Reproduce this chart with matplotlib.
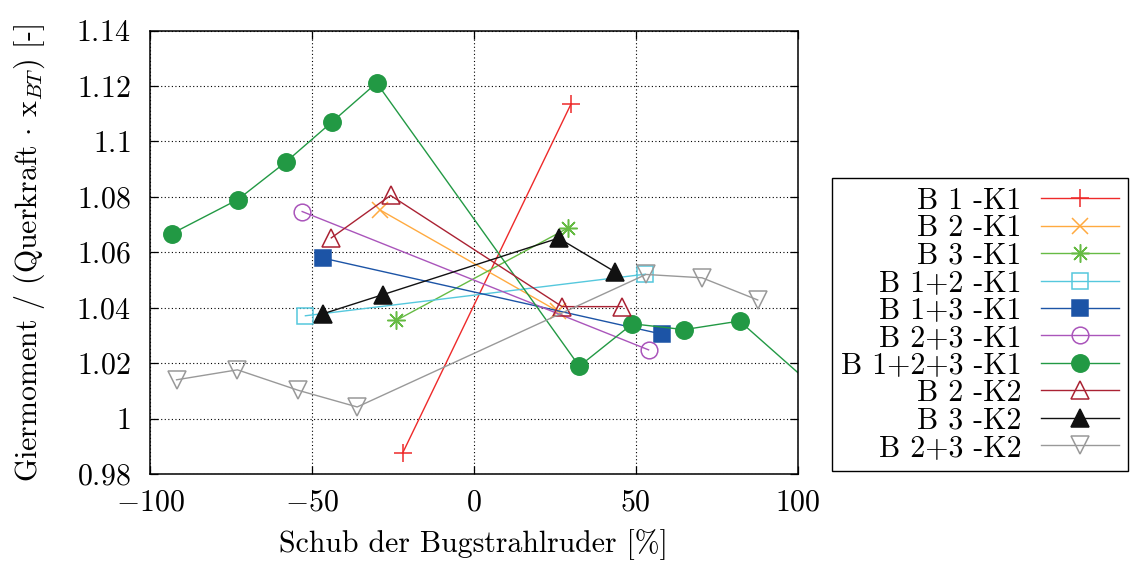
import matplotlib
matplotlib.use("Agg")
import matplotlib.pyplot as plt
from matplotlib.ticker import FixedLocator, FuncFormatter

plt.rcParams["font.family"] = "serif"
plt.rcParams["font.serif"] = ["cmr10"]
plt.rcParams["mathtext.fontset"] = "cm"
plt.rcParams["axes.formatter.use_mathtext"] = True
plt.rcParams["axes.unicode_minus"] = True

# Messreihen: Schub [%] und bezogenes Giermoment [-]
labels = ["B 1 -K1", "B 2 -K1", "B 3 -K1", "B 1+2 -K1", "B 1+3 -K1",
          "B 2+3 -K1", "B 1+2+3 -K1", "B 2 -K2", "B 3 -K2", "B 2+3 -K2"]

b1_k1_x = [-22, 30]
b1_k1_y = [0.9875, 1.1134]
b2_k1_x = [-29, 26]
b2_k1_y = [1.0753, 1.0387]
b3_k1_x = [-24, 29]
b3_k1_y = [1.0354, 1.0687]
b12_k1_x = [-52, 53]
b12_k1_y = [1.0371, 1.0521]
b13_k1_x = [-46.6, 58]
b13_k1_y = [1.0579, 1.0305]
b23_k1_x = [-53, 54]
b23_k1_y = [1.0747, 1.0248]
b123_k1_x = [-93.3, -72.9, -58.1, -43.7, -30.0, 32.6, 49.0, 65.0, 82.1, 115]
b123_k1_y = [1.0667, 1.0790, 1.0925, 1.1071, 1.1211, 1.0189, 1.0342, 1.0321, 1.0352, 1.0012]
b2_k2_x = [-44, -25.7, 27.3, 45.8]
b2_k2_y = [1.0652, 1.0805, 1.0404, 1.0404]
b3_k2_x = [-46.6, -28.1, 26.2, 43.7]
b3_k2_y = [1.0378, 1.0447, 1.0651, 1.0529]
b23_k2_x = [-91.8, -73.0, -54.2, -36.0, 53.2, 70.5, 87.7]
b23_k2_y = [1.0140, 1.0176, 1.0102, 1.0042, 1.0520, 1.0508, 1.0428]

series_x = [b1_k1_x, b2_k1_x, b3_k1_x, b12_k1_x, b13_k1_x,
            b23_k1_x, b123_k1_x, b2_k2_x, b3_k2_x, b23_k2_x]
series_y = [b1_k1_y, b2_k1_y, b3_k1_y, b12_k1_y, b13_k1_y,
            b23_k1_y, b123_k1_y, b2_k2_y, b3_k2_y, b23_k2_y]

colors = ["#ee2a2a", "#ffaa40", "#66bb44", "#55c8dd", "#1c54a6",
          "#aa55bb", "#229944", "#aa2233", "#111111", "#999999"]
markers = ["+", "x", (8, 2, 0), "s", "s", "o", "o", "^", "^", "v"]
filled = [True, True, True, False, True, False, True, False, True, False]
msizes = [13, 11, 13, 12, 12, 12, 12.5, 13, 13, 13]

x_ticks = [-100, -50, 0, 50, 100]
y_ticks = [0.98, 1.0, 1.02, 1.04, 1.06, 1.08, 1.10, 1.12, 1.14]

fig = plt.figure(figsize=(11.33, 5.61), dpi=100)
ax = fig.add_axes([0.1324, 0.155, 0.5715, 0.7906])

for xs, ys, lab, c, m, f, ms in zip(series_x, series_y, labels, colors,
                                    markers, filled, msizes):
    ax.plot(xs, ys, color=c, lw=1.0, marker=m, markersize=ms,
            markeredgewidth=1.1, markeredgecolor=c,
            markerfacecolor=c if f else "none", label=lab, clip_on=True)

ax.set_xlim(-100, 100)
ax.set_ylim(0.98, 1.14)
ax.xaxis.set_major_locator(FixedLocator(x_ticks))
ax.yaxis.set_major_locator(FixedLocator(y_ticks))
ax.xaxis.set_major_formatter(FuncFormatter(lambda v, p: "$%g$" % v))
ax.yaxis.set_major_formatter(FuncFormatter(lambda v, p: "$%g$" % round(v, 2)))

ax.grid(True, color="black", linestyle=(0, (1, 2.2)), linewidth=0.8)
ax.tick_params(direction="in", length=6, width=0.9, labelsize=21.5,
               top=True, right=True)
ax.tick_params(axis="x", pad=11)
ax.tick_params(axis="y", pad=14)
for s in ax.spines.values():
    s.set_linewidth(1.1)

ax.set_xlabel("Schub der Bugstrahlruder [%]", fontsize=21.5, labelpad=9)
ax.set_ylabel(r"Giermoment / (Querkraft $\cdot$ x$_{BT}$) [-]", fontsize=21.5,
              labelpad=21)

leg = ax.legend(loc="upper left", bbox_to_anchor=(0.7343, 0.1574, 0.2646, 0.5245),
                bbox_transform=fig.transFigure, markerfirst=False,
                fontsize=21.5, frameon=True, fancybox=False, framealpha=1,
                edgecolor="black", handlelength=2.6, handletextpad=0.65,
                labelspacing=0.0, borderpad=0.3, borderaxespad=0.0)
leg.get_frame().set_linewidth(1.0)

fig.savefig("out.png", dpi=100)
